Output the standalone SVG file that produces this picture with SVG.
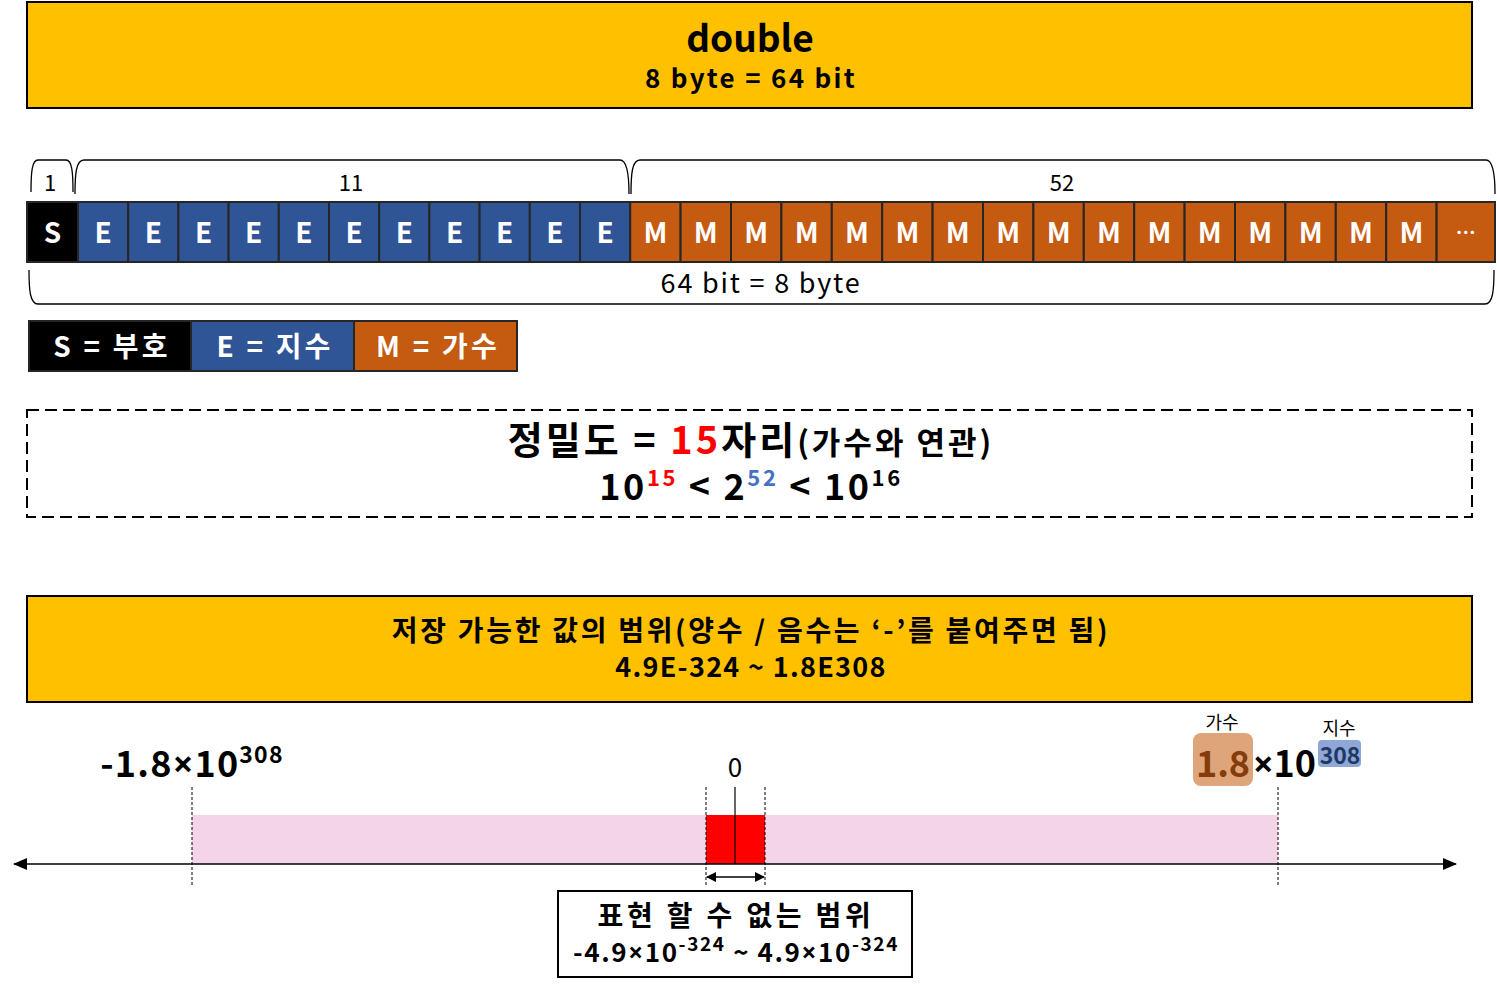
<svg xmlns="http://www.w3.org/2000/svg" width="1497" height="986" viewBox="0 0 1497 986">
<style>
text{font-family:"Noto Sans CJK KR","Noto Sans",sans-serif;text-anchor:middle}
.b{font-weight:bold}
.x{font-family:"Noto Sans","DejaVu Sans",sans-serif}
.cellS{fill:#000000;stroke:#262626;stroke-width:2}
.cellE{fill:#2F5597;stroke:#262626;stroke-width:2}
.cellM{fill:#C55A11;stroke:#262626;stroke-width:2}
.ct{fill:#ffffff;font-weight:bold;font-size:28px}
.brace{fill:none;stroke:#000;stroke-width:1.3}
.dash{stroke:#000;stroke-width:1;stroke-dasharray:3 2}
</style>
<defs>
<marker id="ah" markerWidth="10" markerHeight="10" refX="9" refY="5" orient="auto-start-reverse" markerUnits="userSpaceOnUse"><path d="M0,0 L10,5 L0,10 Z" fill="#000"/></marker>
<marker id="ah2" markerWidth="14" markerHeight="12" refX="13" refY="6" orient="auto-start-reverse" markerUnits="userSpaceOnUse"><path d="M0,0 L14,6 L0,12 Z" fill="#000"/></marker>
</defs>
<rect width="1497" height="986" fill="#fff"/>

<g id="title">
<rect x="27" y="2" width="1445" height="106" fill="#FFC000" stroke="#000" stroke-width="2"/>
<text x="750" y="52" class="b" font-size="37">double</text>
<text x="751" y="88" class="b" font-size="26" letter-spacing="2.3">8 byte = 64 bit</text>
</g>

<g id="braces">
<path class="brace" d="M31,192 C31,172 32,160 38,160 H66 C72,160 73,172 73,192"/>
<text x="50" y="191" font-size="22">1</text>
<path class="brace" d="M75,194 C75,174 76,160 84,160 H620 C627,160 629,174 629,194"/>
<text x="351" y="191" font-size="22">11</text>
<path class="brace" d="M631,194 C631,174 632,160 640,160 H1486 C1493,160 1495,174 1495,194"/>
<text x="1062" y="191" font-size="22">52</text>
<path class="brace" d="M29,270 C29,290 30,304 38,304 H1485 C1493,304 1494,290 1494,270"/>
<text x="761" y="293" font-size="27" letter-spacing="1.8">64 bit = 8 byte</text>
</g>

<g id="bits">
<rect class="cellS" x="27" y="202" width="51" height="60"/>
<rect class="cellE" x="78" y="202" width="50.2" height="60"/>
<rect class="cellE" x="128.2" y="202" width="50.2" height="60"/>
<rect class="cellE" x="178.4" y="202" width="50.2" height="60"/>
<rect class="cellE" x="228.6" y="202" width="50.2" height="60"/>
<rect class="cellE" x="278.8" y="202" width="50.2" height="60"/>
<rect class="cellE" x="329" y="202" width="50.2" height="60"/>
<rect class="cellE" x="379.2" y="202" width="50.2" height="60"/>
<rect class="cellE" x="429.4" y="202" width="50.2" height="60"/>
<rect class="cellE" x="479.6" y="202" width="50.2" height="60"/>
<rect class="cellE" x="529.8" y="202" width="50.2" height="60"/>
<rect class="cellE" x="580" y="202" width="50.2" height="60"/>
<rect class="cellM" x="630.2" y="202" width="50.4" height="60"/>
<rect class="cellM" x="680.6" y="202" width="50.4" height="60"/>
<rect class="cellM" x="731" y="202" width="50.4" height="60"/>
<rect class="cellM" x="781.4" y="202" width="50.4" height="60"/>
<rect class="cellM" x="831.8" y="202" width="50.4" height="60"/>
<rect class="cellM" x="882.2" y="202" width="50.4" height="60"/>
<rect class="cellM" x="932.6" y="202" width="50.4" height="60"/>
<rect class="cellM" x="983" y="202" width="50.4" height="60"/>
<rect class="cellM" x="1033.4" y="202" width="50.4" height="60"/>
<rect class="cellM" x="1083.8" y="202" width="50.4" height="60"/>
<rect class="cellM" x="1134.2" y="202" width="50.4" height="60"/>
<rect class="cellM" x="1184.6" y="202" width="50.4" height="60"/>
<rect class="cellM" x="1235" y="202" width="50.4" height="60"/>
<rect class="cellM" x="1285.4" y="202" width="50.4" height="60"/>
<rect class="cellM" x="1335.8" y="202" width="50.4" height="60"/>
<rect class="cellM" x="1386.2" y="202" width="50.4" height="60"/>
<rect class="cellM" x="1436.6" y="202" width="58.4" height="60"/>
<text class="ct" y="243"><tspan x="52.5">S</tspan><tspan x="103.1">E</tspan><tspan x="153.3">E</tspan><tspan x="203.5">E</tspan><tspan x="253.7">E</tspan><tspan x="303.9">E</tspan><tspan x="354.1">E</tspan><tspan x="404.3">E</tspan><tspan x="454.5">E</tspan><tspan x="504.7">E</tspan><tspan x="554.9">E</tspan><tspan x="605.1">E</tspan><tspan x="655.4">M</tspan><tspan x="705.8">M</tspan><tspan x="756.2">M</tspan><tspan x="806.6">M</tspan><tspan x="857">M</tspan><tspan x="907.4">M</tspan><tspan x="957.8">M</tspan><tspan x="1008.2">M</tspan><tspan x="1058.6">M</tspan><tspan x="1109">M</tspan><tspan x="1159.4">M</tspan><tspan x="1209.8">M</tspan><tspan x="1260.2">M</tspan><tspan x="1310.6">M</tspan><tspan x="1361">M</tspan><tspan x="1411.4">M</tspan></text>
<text x="1465.8" y="240" fill="#fff" font-weight="bold" font-size="20">…</text>
</g>

<g id="legend">
<rect x="29" y="321" width="162" height="50" fill="#000" stroke="#262626" stroke-width="2"/>
<rect x="191" y="321" width="163" height="50" fill="#2F5597" stroke="#262626" stroke-width="2"/>
<rect x="354" y="321" width="163" height="50" fill="#C55A11" stroke="#262626" stroke-width="2"/>
<text x="112" y="357" class="ct" letter-spacing="3.2">S = 부호</text>
<text x="275" y="357" class="ct" letter-spacing="3.2">E = 지수</text>
<text x="438" y="357" class="ct" letter-spacing="3.2">M = 가수</text>
</g>

<g id="precision">
<rect x="27" y="410" width="1445" height="107" fill="none" stroke="#000" stroke-width="2" stroke-dasharray="12 6"/>
<text x="751" y="454" class="b" font-size="38" letter-spacing="3">정밀도 = <tspan fill="#FF0000">15</tspan>자리<tspan font-size="31">(가수와 연관)</tspan></text>
<text x="751" y="500" class="b" font-size="36" letter-spacing="2.6">10<tspan font-size="22" dy="-14" fill="#FF0000">15</tspan><tspan dy="14"> &lt; 2</tspan><tspan font-size="22" dy="-14" fill="#4472C4">52</tspan><tspan dy="14"> &lt; 10</tspan><tspan font-size="22" dy="-14">16</tspan></text>
</g>

<g id="range">
<rect x="27" y="596" width="1445" height="106" fill="#FFC000" stroke="#000" stroke-width="2"/>
<text x="751" y="641" class="b" font-size="28" letter-spacing="2.7">저장 가능한 값의 범위(양수 / 음수는 ‘-’를 붙여주면 됨)</text>
<text x="751" y="677" class="b" font-size="27" letter-spacing="1.3">4.9E-324 ~ 1.8E308</text>
</g>

<g id="numberline">
<rect x="192" y="815" width="1086" height="49" fill="#F4D5E8"/>
<rect x="706" y="815" width="59" height="49" fill="#FF0000"/>
<line x1="735" y1="787" x2="735" y2="864" stroke="#000" stroke-width="1.2"/>
<line class="dash" x1="192" y1="787" x2="192" y2="886"/>
<line class="dash" x1="1278" y1="787" x2="1278" y2="886"/>
<line class="dash" x1="706" y1="787" x2="706" y2="886"/>
<line class="dash" x1="765" y1="787" x2="765" y2="886"/>
</g>

<g id="connectors">
<line x1="14" y1="864" x2="1456" y2="864" stroke="#000" stroke-width="1.5" marker-start="url(#ah2)" marker-end="url(#ah2)"/>
<line x1="707" y1="877" x2="764" y2="877" stroke="#000" stroke-width="1.5" marker-start="url(#ah)" marker-end="url(#ah)"/>
</g>

<g id="labels">
<text x="735" y="777" font-size="26">0</text>
<text x="192" y="777" class="b" font-size="36" letter-spacing="1.2">-1.8<tspan class="x">×</tspan>10<tspan font-size="23" dy="-14">308</tspan></text>
<text x="1222" y="729" font-size="18">가수</text>
<text x="1339" y="735" font-size="18">지수</text>
<rect x="1193" y="733" width="60" height="53" rx="8" fill="#DEA47A"/>
<rect x="1318" y="740" width="43" height="27" rx="4" fill="#8EA7D6"/>
<text x="1223" y="777" class="b" font-size="36" fill="#843C0C">1.8</text>
<text x="1253" y="777" class="b" font-size="36" style="text-anchor:start"><tspan class="x">×</tspan>10</text>
<text x="1340" y="764" class="b" font-size="23" fill="#1F3864">308</text>
</g>

<g id="unrep">
<rect x="558" y="891" width="354" height="86" fill="#fff" stroke="#000" stroke-width="2"/>
<text x="736" y="926" class="b" font-size="28" letter-spacing="3.8">표현 할 수 없는 범위</text>
<text x="736" y="962" class="b" font-size="26" letter-spacing="1.6">-4.9<tspan class="x">×</tspan>10<tspan font-size="19" dy="-11">-324</tspan><tspan dy="11"> ~ 4.9</tspan><tspan class="x">×</tspan>10<tspan font-size="19" dy="-11">-324</tspan></text>
</g>
</svg>
